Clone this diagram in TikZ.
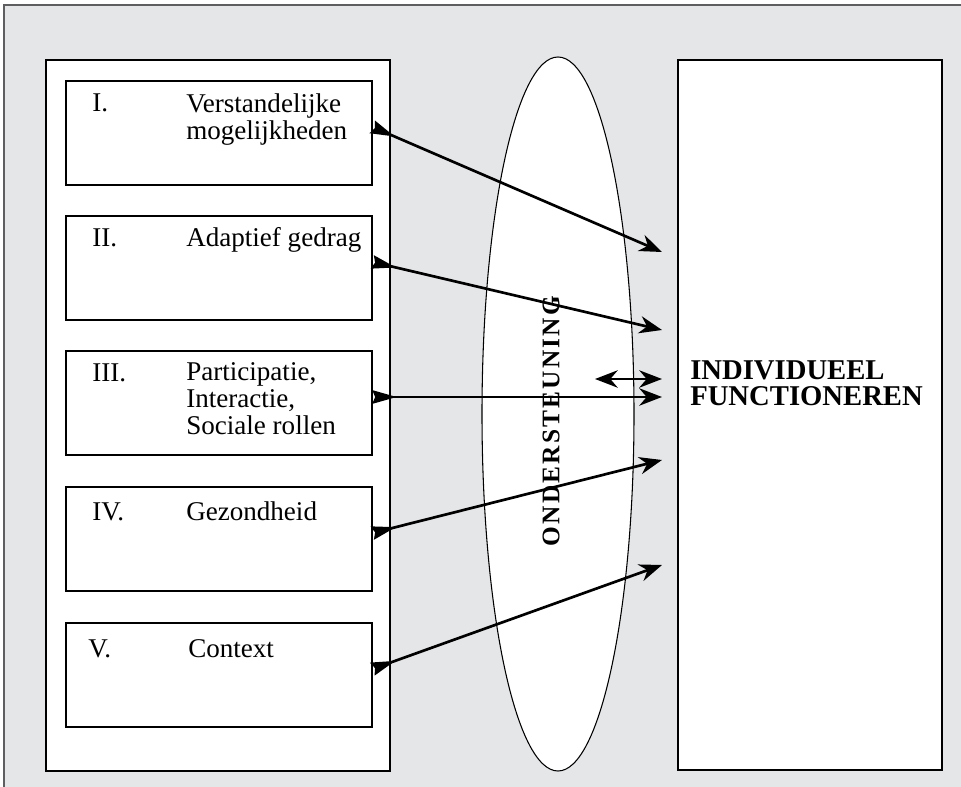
\documentclass[tikz,border=0pt]{standalone}
\usepackage{fontspec}
\setmainfont{Liberation Serif}
\newfontfamily\spatie[LetterSpace=8.7]{Liberation Serif}
\usetikzlibrary{arrows.meta,shapes.geometric}
\definecolor{paneel}{HTML}{E5E6E8}
\definecolor{rand}{HTML}{5E5E60}
\tikzset{
  vak/.style={draw, line width=.8pt, fill=white, inner sep=0pt, minimum width=229.5pt, minimum height=78pt},
  nr/.style={anchor=base west, inner sep=0pt, font=\fontsize{20.3}{20.5}\selectfont},
  tekst/.style={nr, align=left},
  kop/.tip={Stealth[length=17pt, width=13pt, inset=5.5pt]},
  staart/.tip={Stealth[reversed, length=18pt, width=10pt, inset=2pt]},
  pijl/.style={line width=2pt, staart-kop},
}

\begin{document}
\begin{tikzpicture}[x=0.75pt, y=-0.75pt]
      \useasboundingbox (0,0) rectangle (961,787);
      \fill[paneel] (4,5) rectangle (961,787);
      \draw[rand, line width=1.5pt] (4,787) -- (4,5) -- (961,5);
      \node [draw, line width=1pt, fill=white, inner sep=0pt, minimum width=258pt, minimum height=533.25pt] (links) at (218,415.5) {};
      \node [vak] (v1) at (219,133) {};
      \node [vak] (v2) at (219,268) {};
      \node [vak] (v3) at (219,403) {};
      \node [vak] (v4) at (219,539) {};
      \node [vak] (v5) at (219,675) {};
      \node [nr] (n1) at (92,112) {I.};
      \node [tekst] (t1) at (186,140) {Verstandelijke\\mogelijkheden};
      \node [nr] (n2) at (92,247) {II.};
      \node [tekst] (t2) at (186,247) {Adaptief gedrag};
      \node [nr] (n3) at (92,382) {III.};
      \node [tekst] (t3) at (186,435) {Participatie,\\Interactie,\\Sociale rollen};
      \node [nr] (n4) at (92,521) {IV.};
      \node [tekst] (t4) at (186,521) {Gezondheid};
      \node [nr] (n5) at (88,658) {V.};
      \node [tekst] (t5) at (188,658) {Context};
      \node [ellipse, draw, line width=.8pt, fill=white, inner sep=0pt, minimum width=114pt, minimum height=535.5pt] (steun) at (558,414) {};
      \node [rotate=90, inner sep=0pt, font=\spatie\bfseries\fontsize{19}{19}\selectfont] (ond) at (551,421) {ONDERSTEUNING};
      \node [draw, line width=1pt, fill=white, inner sep=0pt, minimum width=198pt, minimum height=532.5pt] (indiv) at (810,415) {};
      \node [anchor=base west, inner sep=0pt, align=left, font=\bfseries\fontsize{21.5}{20}\selectfont] (func) at (690,406) {INDIVIDUEEL\\FUNCTIONEREN};
      \coordinate (h1) at (662,252);
      \coordinate (h2) at (662,330);
      \coordinate (h3) at (662,397);
      \coordinate (h4) at (662,460);
      \coordinate (h5) at (662,565);
      \coordinate (d1) at (595,379);
      \coordinate (d2) at (662,379);
      \draw [pijl] ([yshift=4.5pt]v1.east) -- (h1);
      \draw [pijl] ([yshift=4.5pt]v2.east) -- (h2);
      \draw [pijl] ([yshift=4.5pt]v3.east) -- (h3);
      \draw [pijl] ([yshift=4.5pt]v4.east) -- (h4);
      \draw [pijl] ([yshift=4.5pt]v5.east) -- (h5);
      \draw [line width=2pt, kop-kop] (d1) -- (d2);
    \end{tikzpicture}
\end{document}
